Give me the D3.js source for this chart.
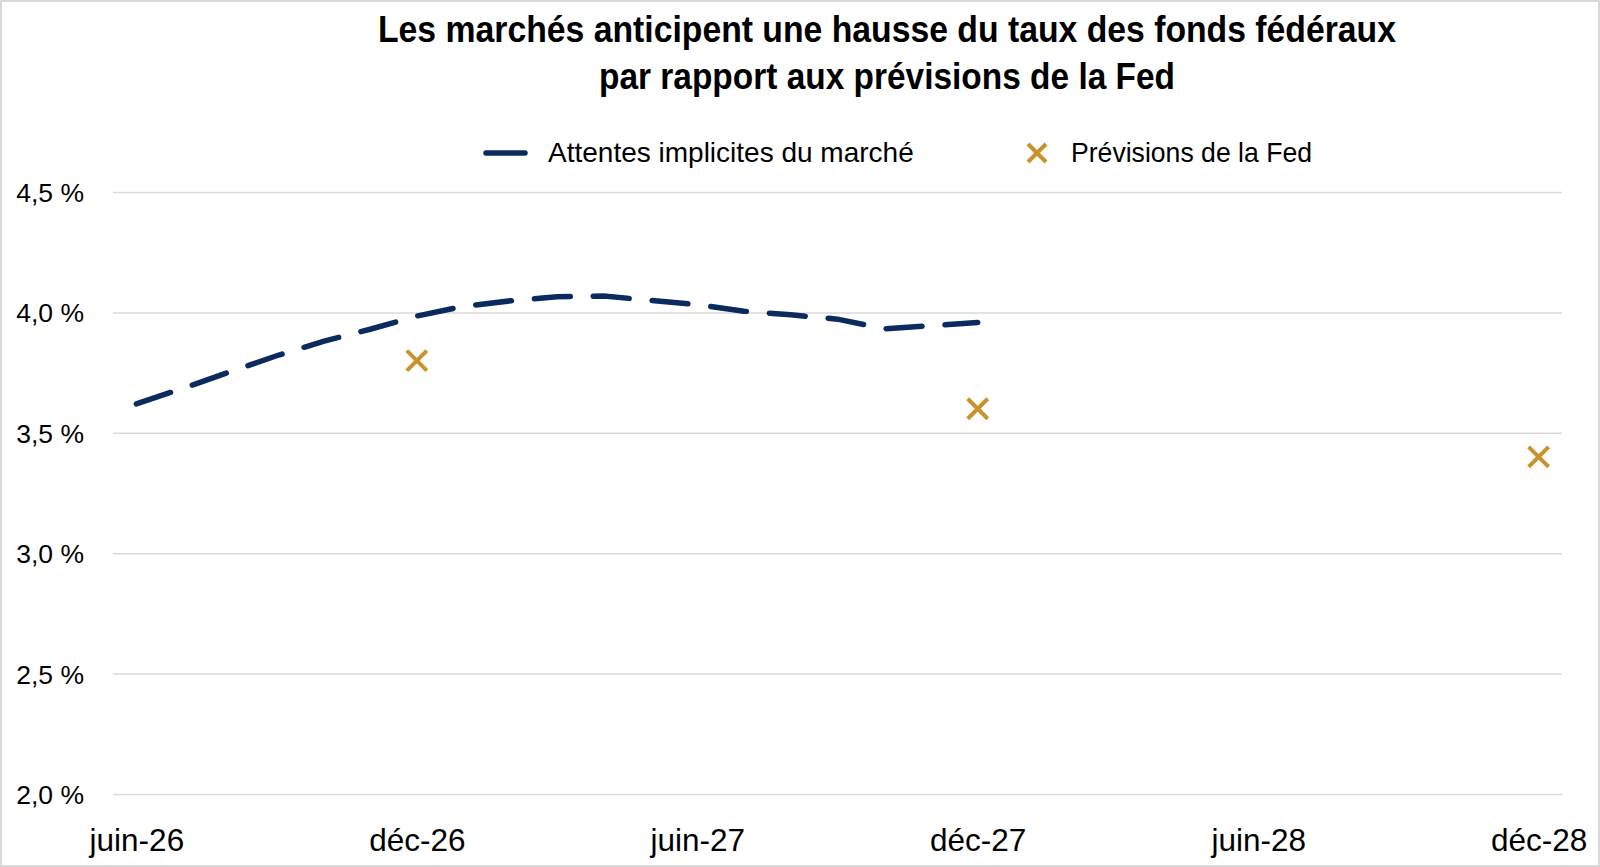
<!DOCTYPE html>
<html>
<head>
<meta charset="utf-8">
<script src="https://cdn.jsdelivr.net/npm/d3@7"></script>
<style>
  body { margin:0; background:#fff; }
  text { font-family: "Liberation Sans", Arial, sans-serif; fill:#000; }
</style>
</head>
<body>
<svg></svg>
<script>
// month index 0 = juin-26
var tickMonths = [0, 6, 12, 18, 24, 30];
var tickLabels = ["juin-26", "déc-26", "juin-27", "déc-27", "juin-28", "déc-28"];
var yTicks = [2.0, 2.5, 3.0, 3.5, 4.0, 4.5];

// market implied path, monthly from juin-26 to déc-27
var marketMonths = [0,1,2,3,4,5,6,7,8,9,10,11,12,13,14,15,16,17,18];
var marketValues = [3.62,3.685,3.753,3.82,3.88,3.93,3.985,4.025,4.048,4.065,4.068,4.05,4.032,4.005,3.99,3.972,3.932,3.945,3.958];

// Fed projections
var fedMonths = [6, 18, 30];
var fedValues = [3.8, 3.6, 3.4];

var titleLines = ["Les marchés anticipent une hausse du taux des fonds fédéraux",
                  "par rapport aux prévisions de la Fed"];

var screen = { width:1600, height:867 };
var navy = "#0b2a5e";
var gold = "#c8932a";

var svg = d3.select("svg")
            .attr("width", screen.width)
            .attr("height", screen.height);

svg.append("rect")
   .attr("x",1).attr("y",1)
   .attr("width",screen.width-2).attr("height",screen.height-2)
   .attr("fill","#fff")
   .attr("stroke","#d9d9d9")
   .attr("stroke-width",2);

var xScale = d3.scaleLinear()
               .domain([-0.5, 30.5])
               .range([113, 1562]);
var yScale = d3.scaleLinear()
               .domain([2.0, 4.5])
               .range([794, 192]);

// title
svg.append("g").selectAll("text")
   .data(titleLines)
   .enter()
   .append("text")
   .attr("x", 887)
   .attr("y", function(d,i) { return 42 + i*47; })
   .attr("text-anchor","middle")
   .attr("font-size", 37)
   .attr("font-weight","bold")
   .attr("textLength", function(d,i) { return i==0 ? 1018 : 576; })
   .attr("lengthAdjust","spacingAndGlyphs")
   .text(function(d) { return d; });

// gridlines
var yAxis = d3.axisLeft(yScale)
              .tickValues(yTicks)
              .tickSize(-(1562-113))
              .tickFormat(function(d) { return d3.format(".1f")(d).replace(".", ",") + " %"; });

var gy = svg.append("g")
            .attr("transform","translate(113,0)")
            .call(yAxis);
gy.select(".domain").remove();
gy.selectAll(".tick line").attr("stroke","#d9d9d9").attr("stroke-width",1.5);
gy.selectAll(".tick text")
  .attr("x",-29)
  .attr("dy","0.36em")
  .attr("font-size",26.5)
  .attr("font-family","'Liberation Sans', Arial, sans-serif")
  .attr("fill","#000");

var xAxis = d3.axisBottom(xScale)
              .tickValues(tickMonths)
              .tickSize(0)
              .tickFormat(function(d,i) { return tickLabels[i]; });

var gx = svg.append("g")
            .attr("transform","translate(0,794)")
            .call(xAxis);
gx.select(".domain").remove();
gx.selectAll(".tick text")
  .attr("y",57)
  .attr("dy",0)
  .attr("font-size",31.5)
  .attr("font-family","'Liberation Sans', Arial, sans-serif")
  .attr("fill","#000");

// market line
var market = marketMonths.map(function(m,i) { return { month:m, value:marketValues[i] }; });

var drawLine = d3.line()
                 .x(function(d) { return xScale(d.month); })
                 .y(function(d) { return yScale(d.value); });

svg.append("path")
   .datum(market)
   .attr("d", drawLine)
   .attr("fill","none")
   .attr("stroke",navy)
   .attr("stroke-width",5.5)
   .attr("stroke-linecap","round")
   .attr("stroke-dasharray","36,23");

// fed crosses
var cross = function(g, size)
{
  g.append("line").attr("x1",-size).attr("y1",-size).attr("x2",size).attr("y2",size);
  g.append("line").attr("x1",-size).attr("y1",size).attr("x2",size).attr("y2",-size);
  g.selectAll("line").attr("stroke",gold).attr("stroke-width",4);
};

svg.append("g").selectAll("g")
   .data(fedMonths)
   .enter()
   .append("g")
   .attr("transform",function(d,i) { return "translate("+xScale(d)+","+yScale(fedValues[i])+")"; })
   .each(function() { cross(d3.select(this), 10); });

// legend
var legend = svg.append("g").classed("legend",true);

legend.append("line")
      .attr("x1",486).attr("x2",525)
      .attr("y1",153).attr("y2",153)
      .attr("stroke",navy)
      .attr("stroke-width",5.5)
      .attr("stroke-linecap","round");
legend.append("text")
      .attr("x",548).attr("y",162)
      .attr("font-size",28)
      .text("Attentes implicites du marché");

var legCross = legend.append("g").attr("transform","translate(1037,153)");
cross(legCross, 9);
legend.append("text")
      .attr("x",1071).attr("y",162)
      .attr("font-size",28)
      .attr("textLength",241)
      .attr("lengthAdjust","spacingAndGlyphs")
      .text("Prévisions de la Fed");
</script>
</body>
</html>
